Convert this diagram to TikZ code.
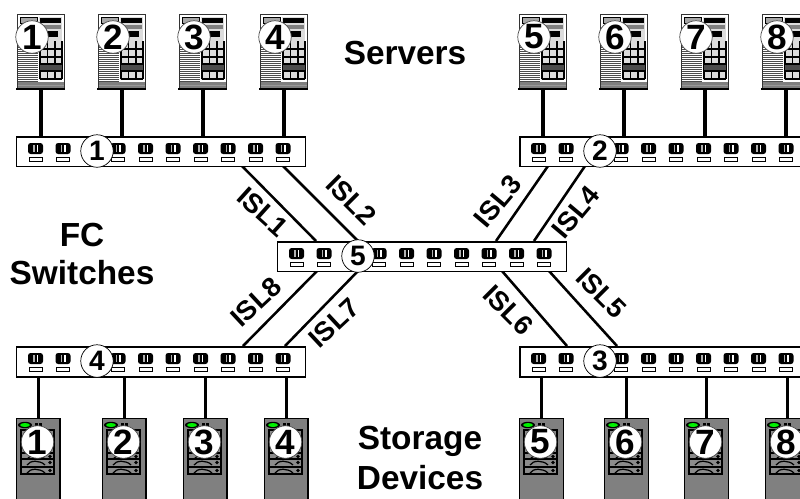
\documentclass[tikz,border=0pt]{standalone}
\usepackage{xcolor}
\usepackage{fontspec}
\setmainfont{Liberation Sans}
\usetikzlibrary{positioning,calc}
\definecolor{ledgreen}{HTML}{00F000}
\definecolor{casegray}{HTML}{808080}
\definecolor{cellgray}{HTML}{DCDCDC}
\tikzset{
    switchbox/.style={draw=black, fill=white, line width=0.85pt, minimum width=5.78cm, minimum height=0.6cm, inner sep=0pt},
    serverbox/.style={draw=black!80, fill=white, line width=0.7pt, minimum width=0.94cm, minimum height=1.5cm, inner sep=0pt},
    storagebox/.style={draw=black, fill=casegray, line width=0.8pt, minimum width=0.87cm, minimum height=2.2cm, inner sep=0pt},
    numcirc/.style={circle, draw=black!70, fill=white, line width=0.4pt, minimum size=0.65cm, inner sep=0pt, font=\fontsize{20}{22}\selectfont\bfseries},
    swcirc/.style={numcirc, draw=black, font=\fontsize{16}{18}\selectfont\bfseries},
    title/.style={align=center, font=\fontsize{19}{22.7}\selectfont\bfseries},
    isl/.style={line width=1.45pt},
    feed/.style={line width=2.1pt},
    isllabel/.style={font=\fontsize{15.5}{18}\selectfont\bfseries, inner sep=0pt}
}
\begin{document}
\begin{tikzpicture}[x=0.02cm, y=-0.02cm]
    \clip (0,0) rectangle (800,498);
    \fill[white] (0,0) rectangle (800,498);

    % ISL links
    \foreach \i/\xa/\ya/\xb/\yb in {1/242/166/316/241, 2/283/166/358/241, 3/548/166/496/241, 4/585/166/534/241,
                                    5/549/271/617/346, 6/502/271/567/346, 7/358/271/285/346, 8/317/271/243/346} {
        \coordinate (isl\i a) at (\xa,\ya);
        \coordinate (isl\i b) at (\xb,\yb);
        \draw[isl] (isl\i a) -- (isl\i b);
    }
    \foreach \i/\x/\y/\rot in {1/263/212/-42, 2/351/200/-45, 3/498/201/50, 4/576/212/50,
                               5/601/293/-45, 6/508/310/-45, 7/334/323/43, 8/256/302/43}
        \node[isllabel, rotate=\rot] (labisl\i) at (\x,\y) {ISL\i};

    % FC switches
    \foreach \n/\x/\y/\cx in {1/16/136/97, 2/519/136/600, 3/519/346/600, 4/16/346/97, 5/277/241/358} {
        \node[switchbox, anchor=north west] (sw\n) at (\x,\y) {};
        \foreach \p in {0,...,9} {
            \fill[black, rounded corners=1.5] (\x+12+\p*27.5,\y+7) rectangle ++(15,11);
            \fill[white!70!black] (\x+17+\p*27.5,\y+9) rectangle ++(1.5,7);
            \fill[white] (\x+20.5+\p*27.5,\y+9) rectangle ++(1.5,7);
            \draw[line width=0.55pt] (\x+13+\p*27.5,\y+21) rectangle ++(13,4);
        }
        \node[swcirc] (swnum\n) at (\cx,\y+15) {\n};
    }

    % Servers
    \foreach \n/\x/\s in {1/17/1, 2/98/1, 3/179/1, 4/260/1, 5/519/2, 6/600/2, 7/681/2, 8/762/2} {
        \node[serverbox, anchor=north west] (srv\n) at (\x,14) {};
        \begin{scope}[shift={(\x,14)}]
            \draw[line width=0.4pt, fill=black!35] (3,3) rectangle (20,9);
            \fill[cellgray] (22,3) rectangle (45,66);
            \fill[black] (23,4) rectangle (44,9);
            \fill[black] (25,17) rectangle (41,23);
            \fill[black!50] (23,11) rectangle (44,15);
            \foreach \l in {31,33,...,67}
                \draw[line width=0.55pt, black!70] (1,\l) -- (21,\l);
            \foreach \l in {23,30.5,38,45}
                \draw[line width=0.6pt] (\l,27) -- (\l,65);
            \foreach \l in {35,43,50,57,65}
                \draw[line width=0.7pt] (23,\l) -- (45,\l);
            \fill[black!70] (23,51) rectangle (45,56);
            \fill[casegray] (0.5,68) rectangle (46.5,75);
            \draw[black!40, line width=0.4pt] (0.5,71.5) -- (46.5,71.5);
            \draw[line width=0.9pt] (-1,75) -- (48,75);
        \end{scope}
        \node[numcirc] (srvnum\n) at (\x+15,37) {\n};
        \draw[feed] (srv\n.south) -- (srv\n.south |- sw\s.north);
    }

    % Storage devices
    \foreach \n/\x/\s in {1/16/4, 2/102/4, 3/183/4, 4/264/4, 5/519/3, 6/604/3, 7/684/3, 8/765/3} {
        \node[storagebox, anchor=north west] (st\n) at (\x,418) {};
        \begin{scope}[shift={(\x,418)}]
            \fill[black] (9,7) ellipse (7 and 3.2);
            \fill[ledgreen] (9,7) ellipse (5 and 2);
            \fill[black] (19,4.5) rectangle ++(3,3);
            \fill[black] (23,4.5) rectangle ++(3,3);
            \draw[line width=0.8pt, fill=black!45] (5,12) rectangle (38,56);
            \foreach \l in {35,41,49} {
                \draw[line width=0.8pt] (5,\l) -- (38,\l);
                \draw[line width=0.7pt] (11,\l+6) .. controls (14,\l+1) and (24,\l+1) .. (29,\l+6);
                \fill[black] (34,\l+3.5) circle (1.8);
            }
        \end{scope}
        \node[numcirc] (stnum\n) at (\x+21.5,442) {\n};
        \draw[feed] (sw\s.south -| st\n.north) -- (st\n.north);
    }

    % Labels
    \node[title] (servers) at (405,53) {Servers};
    \node[title, font=\fontsize{19}{21.2}\selectfont\bfseries] (switches) at (82,254) {FC\\Switches};
    \node[title] (storage) at (420,458) {Storage\\Devices};
\end{tikzpicture}
\end{document}
